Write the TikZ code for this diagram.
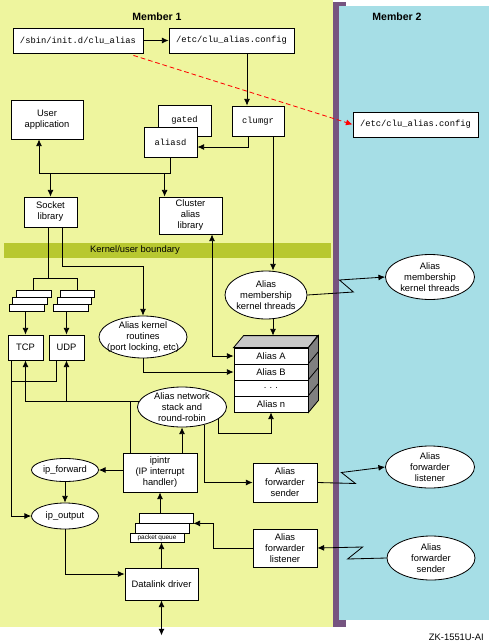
\documentclass[tikz,border=0pt]{standalone}
\usepackage{fontspec}
\setmainfont{Liberation Sans}
\setmonofont{Liberation Mono}
\usepackage{tikz}
\usetikzlibrary{arrows.meta}
\usetikzlibrary{calc}
\usetikzlibrary{positioning}
\usetikzlibrary{shapes.geometric}
\definecolor{member-one}{HTML}{EEF59E}
\definecolor{member-two}{HTML}{A6DEE6}
\definecolor{member-edge}{HTML}{765480}
\definecolor{boundary-band}{HTML}{B8C830}
\definecolor{table-top}{HTML}{C8C8C8}
\definecolor{table-side}{HTML}{808080}

\begin{document}
\begin{tikzpicture}[x=0.03cm, y=-0.03cm, line width=0.7pt,
    font=\fontsize{8}{9.4}\selectfont,
    >={Latex[length=2mm, width=1.8mm]},
    boxsize/.style 2 args={minimum width=#1*0.03cm, minimum height=#2*0.03cm}]

    \useasboundingbox (0,0) rectangle (489,643);

    % members
    \fill[member-one] (0,0) rectangle (333,627);
    \fill[member-edge] (333,2) rectangle (346,627);
    \fill[member-two] (339,6) rectangle (489,620);
    \fill[boundary-band] (4,243) rectangle (331,258);

    \node[font=\fontsize{9}{11}\selectfont\bfseries] (m1) at (157,17) {Member 1};
    \node[font=\fontsize{9}{11}\selectfont\bfseries] (m2) at (397,17) {Member 2};
    \node (kub) at (135,250) {Kernel/user boundary};
    \node[anchor=east] (zk) at (488,637) {ZK-1551U-AI};

    % config files
    \begin{scope}[every node/.style={draw, fill=white, inner sep=1pt,
                  font=\ttfamily\fontsize{7.5}{9}\selectfont}]
        \node[boxsize={130}{25}] (sbin) at (78,40.5) {/sbin/init.d/clu\_alias};
        \node[boxsize={125}{25}] (etcconf) at (231.5,40.5) {/etc/clu\_alias.config};
        \node[boxsize={125}{25}] (conf2) at (415.5,124.5) {/etc/clu\_alias.config};
        \node[boxsize={52}{30}] (clumgr) at (258,121) {clumgr};
        \node[boxsize={53}{31}] (gated) at (184.5,120.5) {gated};
        \node[boxsize={53}{30}] (aliasd) at (170.5,142) {aliasd};
    \end{scope}

    % boxes
    \begin{scope}[every node/.style={draw, fill=white, align=center, inner sep=1pt}]
        \node[boxsize={72}{39}] (userapp) at (47,119.5) {User\\application};
        \node[boxsize={53}{30}] (socket) at (50.5,212) {Socket\\library};
        \node[boxsize={63}{37}] (cluster) at (190.5,215.5) {Cluster\\alias\\library};
        \node[boxsize={35}{25}] (TCP) at (25.5,347.5) {TCP};
        \node[boxsize={35}{25}] (UDP) at (66.5,347.5) {UDP};
        \node[boxsize={74}{39}] (ipintr) at (160,472.5) {ipintr\\(IP interrupt\\handler)};
        \node[boxsize={64}{39}] (sender1) at (285,482.5) {Alias\\forwarder\\sender};
        \node[boxsize={64}{38}] (listener1) at (285,548) {Alias\\forwarder\\listener};
        \node[boxsize={73}{32}] (datalink) at (161.5,584) {Datalink driver};
    \end{scope}

    % queues
    \begin{scope}[every node/.style={draw, fill=white, inner sep=0pt}]
        \node[boxsize={35}{7}] (lq1) at (33.5,293.5) {};
        \node[boxsize={35}{7}] (lq2) at (29.5,300.5) {};
        \node[boxsize={35}{7}] (lq3) at (26.5,307.5) {};
        \node[boxsize={34}{7}] (rq1) at (77,293.5) {};
        \node[boxsize={34}{7}] (rq2) at (74,300.5) {};
        \node[boxsize={35}{7}] (rq3) at (70.5,307.5) {};
        \node[boxsize={54}{10}] (pq1) at (166,518) {};
        \node[boxsize={54}{10}] (pq2) at (162,528) {};
        \node[boxsize={54}{9}, font=\fontsize{5.5}{6}\selectfont] (pq3) at (157,537.5) {packet queue};
    \end{scope}

    % ellipses
    \begin{scope}[every node/.style={draw, fill=white, ellipse, align=center, inner sep=-5pt}]
        \node[boxsize={88}{42}] (kroutines) at (143,337) {Alias kernel\\routines\\(port locking, etc)};
        \node[boxsize={82}{48}] (threads1) at (266,295) {Alias\\membership\\kernel threads};
        \node[boxsize={89}{45}] (threads2) at (430,277) {Alias\\membership\\kernel threads};
        \node[boxsize={89}{40}] (netstack) at (182,407) {Alias network\\stack and\\round-robin};
        \node[boxsize={67}{23}] (ipfwd) at (65,470) {ip\_forward};
        \node[boxsize={67}{26}] (ipout) at (65,516) {ip\_output};
        \node[boxsize={89}{42}] (listener2) at (430,467) {Alias\\forwarder\\listener};
        \node[boxsize={88}{44}] (sender2) at (431,558) {Alias\\forwarder\\sender};
    \end{scope}

    % alias table
    \begin{scope}[every node/.style={draw, fill=white, inner sep=0pt}]
        \node[boxsize={74}{16}] (aliasA) at (271,356) {Alias A};
        \node[boxsize={74}{16}] (aliasB) at (271,372) {Alias B};
        \node[boxsize={74}{16}] (aliasdots) at (271,388) {.\,\,.\,\,.};
        \node[boxsize={74}{16}] (aliasN) at (271,404) {Alias n};
    \end{scope}
    \filldraw[fill=table-top] (aliasA.north west) -- ++(10,-12) -- ++(74,0) -- (aliasA.north east) -- cycle;
    \filldraw[fill=table-side] (aliasA.north east) -- ++(10,-12) -- ($(aliasN.south east)+(10,-12)$) -- (aliasN.south east) -- cycle;
    \foreach \row in {aliasB, aliasdots, aliasN}
        \draw (\row.north east) -- ++(10,-12);
    \draw[very thick] (aliasA.north west) -- (aliasA.north east);

    % helper points
    \coordinate (ubus) at ($(userapp.south)+(-8,34)$);
    \coordinate (cin) at ($(cluster.north west)+(6,0)$);
    \coordinate (cout) at ($(cluster.south)+(21.5,0)$);
    \coordinate (sbus) at ($(socket.south)+(-2.5,51)$);
    \coordinate (tin) at ($(clumgr.south)+(15,0)$);
    \coordinate (tabletop) at ($(aliasA.north)+(2,-12)$);
    \coordinate (wire) at ($(datalink.south)+(0,35)$);

    % user space
    \draw[->] (sbin) -- (etcconf);
    \draw[->] ($(etcconf.south)+(15.5,0)$) -- ($(clumgr.north)+(-11,0)$);
    \draw[->, red, dashed, dash pattern=on 4pt off 2.5pt] ($(sbin.south east)+(-10,2)$) -- (conf2.west);
    \draw[->] ($(clumgr.south)+(-10,0)$) |- ($(aliasd.east)+(0,5)$);
    \draw[->] (ubus) -- (ubus |- userapp.south);
    \draw (ubus) -| (aliasd.south);
    \draw[->] (socket.north |- ubus) -- (socket.north);
    \draw[->] (cin |- ubus) -- (cin);
    \draw[->] (tin) -- (tin |- threads1.north);

    % kernel
    \draw (socket.south -| sbus) -- (sbus);
    \draw (lq1.north) |- (sbus) -| (rq1.north);
    \draw[->] (lq3.south -| TCP.north) -- (TCP.north);
    \draw[->] (rq3.south -| UDP.north) -- (UDP.north);
    \draw[->] ($(socket.south)+(11.5,0)$) -- ++(0,39) -| (kroutines.north);
    \draw[<->] (aliasA.west) -| (cout);
    \draw[->] (kroutines.south) |- (aliasB.west);
    \draw[->] (tabletop |- threads1.south) -- (tabletop);
    \draw[->] (netstack.173) -| (TCP.south);
    \draw[->] (UDP.south |- netstack.173) -- (UDP.south);
    \draw ($(ipintr.north)+(-30,0)$) |- (netstack.173);
    \draw[->] (ipintr.north -| netstack.south) -- (netstack.south);
    \draw[->] (netstack.-18) -- ++(0,15) -| (aliasN.south);
    \draw[->] (netstack.-38) |- (sender1.west);
    \draw[->] ($(TCP.south west)+(4,0)$) |- (ipout.west);
    \draw ($(UDP.south west)+(8,0)$) |- ($(TCP.south west)+(4,21)$);
    \draw[->] (ipintr.west |- ipfwd.east) -- (ipfwd.east);
    \draw[->] (ipfwd) -- (ipout);
    \draw[->] (ipout.south) |- ($(datalink.west)+(0,-10)$);
    \draw[->] (datalink.north) -- (datalink.north |- pq3.south);
    \draw[->] (pq1.north -| ipintr.south) -- (ipintr.south);
    \draw[->] (listener1.west) -- ++(-39,0) |- (pq1.south east);
    \draw[<->] (datalink.south) -- (wire);

    % between members
    \draw[->] (threads1.east) -- ++(46,-3) -- ++(-14,-12) -- (threads2.west);
    \draw[->] (sender1.east) -- ++(38,1) -- ++(-14,-11) -- (listener2.west);
    \draw[->] (sender2.west) -- ++(-39,1) -- ++(15,-12) -- (listener1.east);

\end{tikzpicture}
\end{document}
